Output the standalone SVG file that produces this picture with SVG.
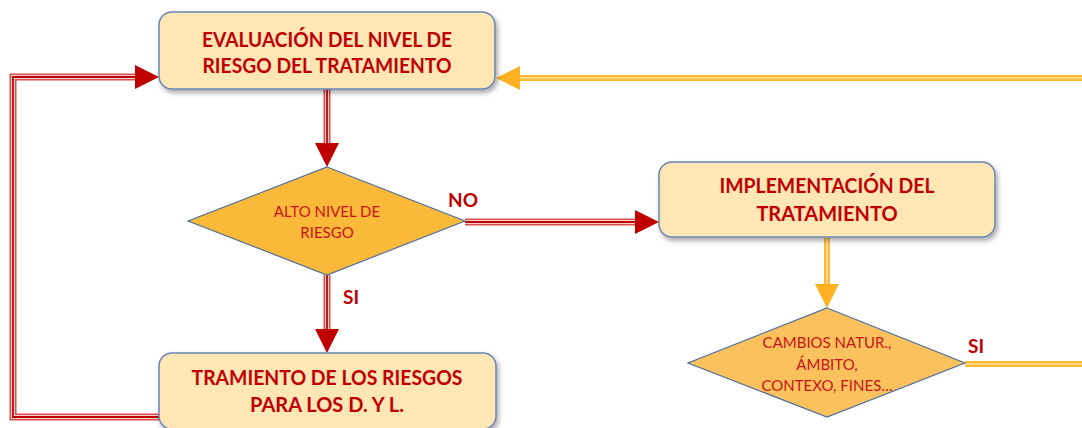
<svg xmlns="http://www.w3.org/2000/svg" width="1082" height="428" viewBox="0 0 1082 428">
<style>
.box{fill:#ffe6b5;stroke:#6a86b5;stroke-width:1.5;filter:url(#sh)}
.dia{stroke:#4f6f9f;stroke-width:1.2}
.bt{font-family:Lato,"Liberation Sans",sans-serif;font-weight:700;font-size:20px;fill:#c00000;text-anchor:middle}
.dt{font-family:Lato,"Liberation Sans",sans-serif;font-size:15px;fill:#c8141a;text-anchor:middle}
.lbl{font-family:Lato,"Liberation Sans",sans-serif;font-weight:700;font-size:19px;fill:#c00000}
.r0{fill:none;stroke:#d94f4f;stroke-width:7}
.r1{fill:none;stroke:#ffffff;stroke-width:3.5}
.r2{fill:none;stroke:#c00000;stroke-width:1.8}
.o0{fill:none;stroke:#ffbb33;stroke-width:6}
.o1{fill:none;stroke:#ffe0a0;stroke-width:1.6}
</style>
<defs>
<filter id="sh" x="-10%" y="-20%" width="125%" height="150%">
<feDropShadow dx="2" dy="3" stdDeviation="2.5" flood-color="#000" flood-opacity="0.35"/>
</filter>
<marker id="ar" markerUnits="userSpaceOnUse" markerWidth="24" markerHeight="24" viewBox="0 0 20 20" refX="20" refY="10" orient="auto">
<path d="M0,0 L20,10 L0,20 Z" fill="#c00000"/>
</marker>
<marker id="ao" markerUnits="userSpaceOnUse" markerWidth="24" markerHeight="24" viewBox="0 0 20 20" refX="20" refY="10" orient="auto">
<path d="M0,0 L20,10 L0,20 Z" fill="#ffb020"/>
</marker>
</defs>

<g id="connectors">
<path class="r0" d="M160,417 H13 V77 H145"/>
<path class="r1" d="M160,417 H13 V77 H145"/>
<path class="r2" d="M160,417 H13 V77 H145"/>
<path d="M145,77 H159" fill="none" stroke="none" marker-end="url(#ar)"/>
<path class="r0" d="M327,89 V150"/>
<path class="r1" d="M327,89 V150"/>
<path class="r2" d="M327,89 V150"/>
<path d="M327,148 V167" fill="none" stroke="none" marker-end="url(#ar)"/>
<path class="r0" d="M327,275 V337"/>
<path class="r1" d="M327,275 V337"/>
<path class="r2" d="M327,275 V337"/>
<path d="M327,334 V353" fill="none" stroke="none" marker-end="url(#ar)"/>
<path class="r0" d="M465,222 H642"/>
<path class="r1" d="M465,222 H642"/>
<path class="r2" d="M465,222 H642"/>
<path d="M640,222 H659" fill="none" stroke="none" marker-end="url(#ar)"/>
<path class="o0" d="M1082,78 H512"/>
<path class="o1" d="M1082,78 H512"/>
<path d="M515,78 H496" fill="none" stroke="none" marker-end="url(#ao)"/>
<path class="o0" d="M827,238 V291"/>
<path class="o1" d="M827,238 V291"/>
<path d="M827,288 V308" fill="none" stroke="none" marker-end="url(#ao)"/>
<path class="o0" d="M965,364 H1082"/>
<path class="o1" d="M965,364 H1082"/>
</g>

<g id="n-evaluacion">
<rect class="box" x="159" y="12" width="336" height="77" rx="13"/>
<text class="bt" x="327" y="47" textLength="250" lengthAdjust="spacingAndGlyphs">EVALUACIÓN DEL NIVEL DE</text>
<text class="bt" x="327" y="73" textLength="249" lengthAdjust="spacingAndGlyphs">RIESGO DEL TRATAMIENTO</text>
</g>

<g id="n-alto">
<polygon class="dia" points="327,167 465,221 327,275 188,221" fill="#fbb93a"/>
<text class="dt" x="327" y="217">ALTO NIVEL DE</text>
<text class="dt" x="327" y="238">RIESGO</text>
</g>

<g id="n-tramiento">
<rect class="box" x="159" y="353" width="337" height="76" rx="13"/>
<text class="bt" x="327" y="385" textLength="271" lengthAdjust="spacingAndGlyphs">TRAMIENTO DE LOS RIESGOS</text>
<text class="bt" x="327" y="412">PARA LOS D. Y L.</text>
</g>

<g id="n-implementacion">
<rect class="box" x="659" y="162" width="336" height="75" rx="13"/>
<text class="bt" x="827" y="193" textLength="215" lengthAdjust="spacingAndGlyphs">IMPLEMENTACIÓN DEL</text>
<text class="bt" x="827" y="221">TRATAMIENTO</text>
</g>

<g id="n-cambios">
<polygon class="dia" points="827,308 965,363 827,417 688,363" fill="#fac15c"/>
<text class="dt" x="827" y="348">CAMBIOS NATUR.,</text>
<text class="dt" x="827" y="370">ÁMBITO,</text>
<text class="dt" x="827" y="391">CONTEXO, FINES…</text>
</g>

<g id="labels">
<text class="lbl" x="448" y="207">NO</text>
<text class="lbl" x="343" y="304">SI</text>
<text class="lbl" x="968" y="353">SI</text>
</g>
</svg>
